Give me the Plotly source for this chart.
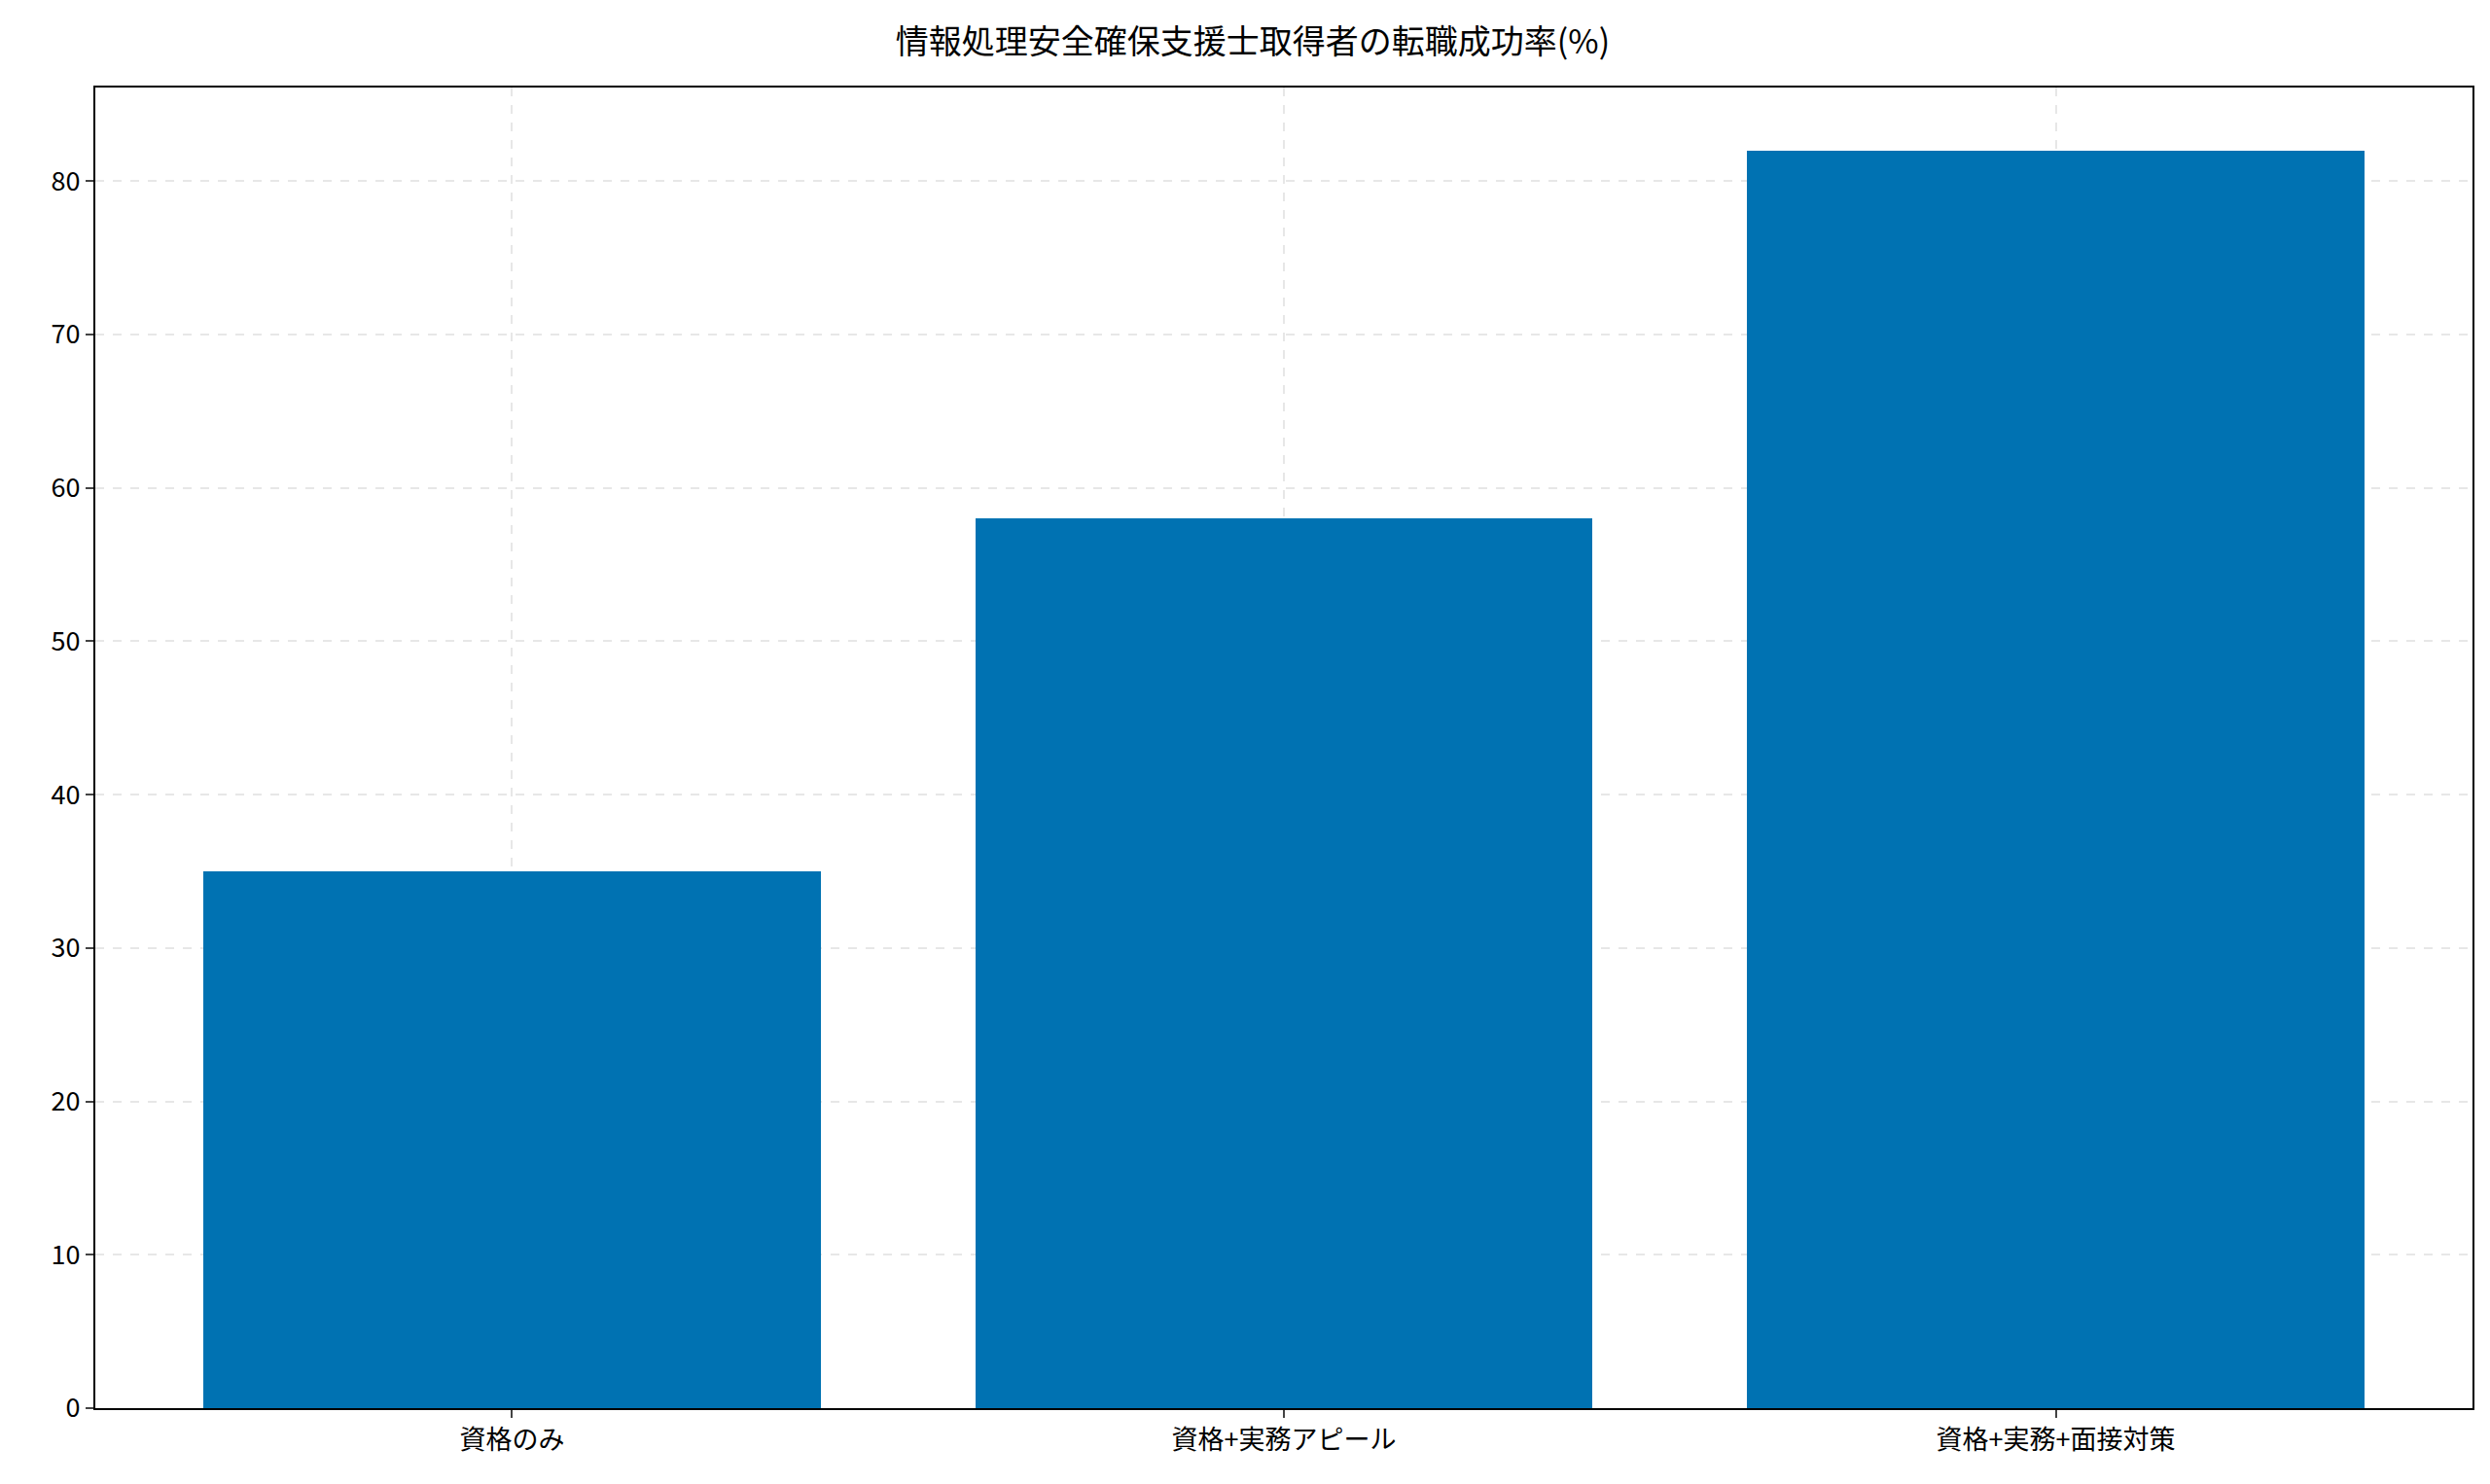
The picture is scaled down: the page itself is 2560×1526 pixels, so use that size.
import plotly.graph_objects as go

categories = ["資格のみ", "資格+実務アピール", "資格+実務+面接対策"]
values = [35, 58, 82]
y_ticks = [0, 10, 20, 30, 40, 50, 60, 70, 80]

font = "Noto Sans CJK JP"

fig = go.Figure(go.Bar(
    x=list(range(len(categories))), y=values,
    width=0.8, marker=dict(color="#0072B2", line=dict(width=0)),
))

grid = dict(showgrid=True, gridcolor="rgba(176,176,176,0.3)", griddash="dash", gridwidth=1.5)

fig.update_layout(
    width=2560, height=1526,
    paper_bgcolor="white", plot_bgcolor="white",
    margin=dict(l=90, r=26, t=82, b=86),
    font=dict(family=font, size=27, color="black"),
    title=dict(text="情報処理安全確保支援士取得者の転職成功率(%)", x=0.5, xanchor="center",
               y=0.985, yanchor="top", font=dict(size=34)),
    showlegend=False, bargap=0,
    xaxis=dict(range=[-0.54, 2.54], tickvals=list(range(len(categories))), ticktext=categories,
               showline=True, linecolor="black", linewidth=2, mirror=True,
               ticks="outside", ticklen=8, tickwidth=2, zeroline=False, **grid),
    yaxis=dict(range=[0, 86.1], tickvals=y_ticks,
               showline=True, linecolor="black", linewidth=2, mirror=True,
               ticks="outside", ticklen=8, tickwidth=2, zeroline=False, **grid),
)

fig.write_html("out.html")
